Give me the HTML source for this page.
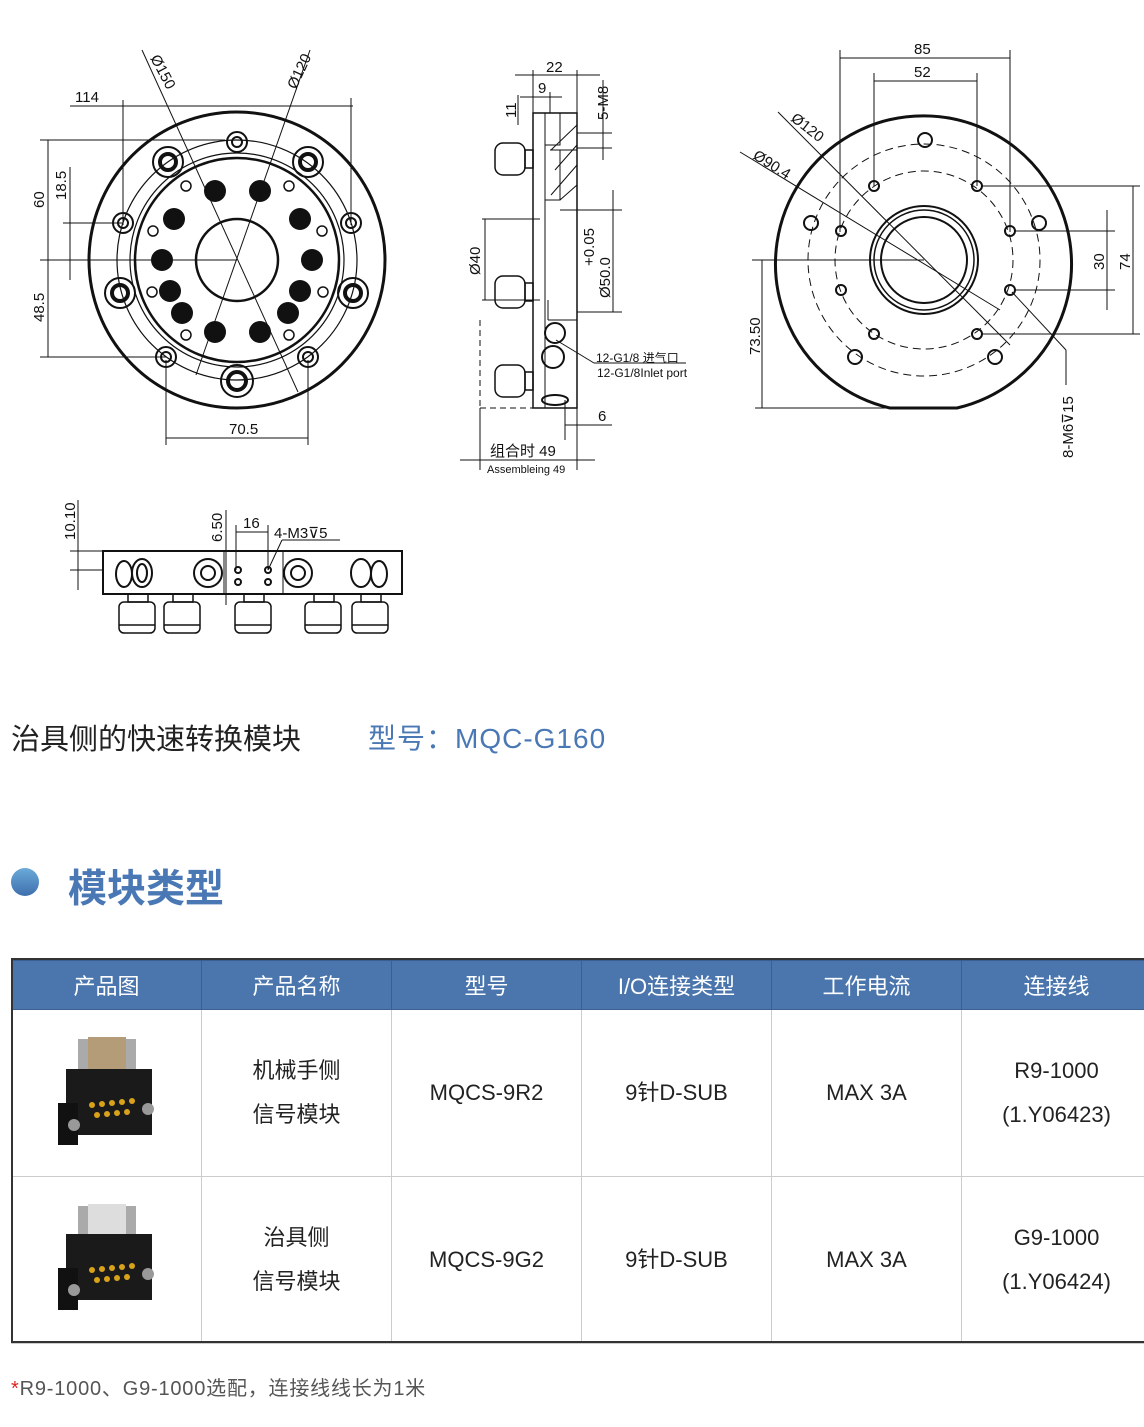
<!DOCTYPE html>
<html><head><meta charset="utf-8"><style>
body{margin:0;background:#fff;width:1144px;height:1427px;overflow:hidden;position:relative;font-family:"Liberation Sans","Noto Sans CJK SC",sans-serif}
svg{position:absolute;left:0;top:0}
.t{position:absolute;white-space:nowrap}
table{position:absolute;left:11px;top:960px;border-collapse:collapse;table-layout:fixed;width:1137px;font-family:"Liberation Sans","Noto Sans CJK SC",sans-serif}
td,th{border:1px solid #ccc;text-align:center;font-size:22px;color:#222;font-weight:normal;width:189px;padding:0}
th{background:#4a76ad;color:#fff;height:48px;border-color:#3a5f90;font-size:22px}
td{height:166px;line-height:44px}
</style></head><body>
<svg width="1144" height="660" viewBox="0 0 1144 660" fill="none" stroke="#111" stroke-width="1" font-family="Liberation Sans, Noto Sans CJK SC, sans-serif">
<g>
<circle cx="237" cy="260" r="148" stroke-width="3"/>
<circle cx="237" cy="260" r="120" stroke-width="1.2"/>
<circle cx="237" cy="260" r="107" stroke-width="1.2"/>
<circle cx="237" cy="260" r="102" stroke-width="2.5"/>
<circle cx="237" cy="260" r="41" stroke-width="2.5"/>
<g stroke-width="2">
<circle cx="237" cy="142" r="10"/><circle cx="237" cy="142" r="5"/>
<circle cx="123" cy="223" r="10"/><circle cx="123" cy="223" r="5"/>
<circle cx="351" cy="223" r="10"/><circle cx="351" cy="223" r="5"/>
<circle cx="166" cy="357" r="10"/><circle cx="166" cy="357" r="5"/>
<circle cx="308" cy="357" r="10"/><circle cx="308" cy="357" r="5"/>
<circle cx="168" cy="162" r="15"/><circle cx="168" cy="162" r="8" stroke-width="4"/>
<circle cx="308" cy="162" r="15"/><circle cx="308" cy="162" r="8" stroke-width="4"/>
<circle cx="120" cy="293" r="15"/><circle cx="120" cy="293" r="8" stroke-width="4"/>
<circle cx="353" cy="293" r="15"/><circle cx="353" cy="293" r="8" stroke-width="4"/>
<circle cx="237" cy="381" r="16"/><circle cx="237" cy="381" r="9" stroke-width="4"/>
</g>
<g fill="#111" stroke="none">
<circle cx="215" cy="191" r="11"/><circle cx="260" cy="191" r="11"/><circle cx="174" cy="219" r="11"/><circle cx="300" cy="219" r="11"/>
<circle cx="162" cy="260" r="11"/><circle cx="312" cy="260" r="11"/><circle cx="170" cy="291" r="11"/><circle cx="300" cy="291" r="11"/>
<circle cx="182" cy="313" r="11"/><circle cx="288" cy="313" r="11"/><circle cx="215" cy="332" r="11"/><circle cx="260" cy="332" r="11"/>
</g>
<g stroke-width="1.5">
<circle cx="186" cy="186" r="5"/><circle cx="289" cy="186" r="5"/><circle cx="153" cy="231" r="5"/><circle cx="322" cy="231" r="5"/>
<circle cx="152" cy="292" r="5"/><circle cx="323" cy="292" r="5"/><circle cx="186" cy="335" r="5"/><circle cx="289" cy="335" r="5"/>
</g>
<line x1="142" y1="50" x2="298" y2="392"/><line x1="310" y1="50" x2="196" y2="375"/>
<line x1="70" y1="106" x2="353" y2="106"/><line x1="123" y1="100" x2="123" y2="225"/><line x1="351" y1="98" x2="351" y2="225"/>
<line x1="40" y1="140" x2="225" y2="140"/><line x1="40" y1="260" x2="237" y2="260"/><line x1="40" y1="357" x2="166" y2="357"/>
<line x1="48" y1="140" x2="48" y2="357"/><line x1="70" y1="167" x2="70" y2="280"/><line x1="63" y1="223" x2="123" y2="223"/>
<line x1="166" y1="360" x2="166" y2="445"/><line x1="308" y1="360" x2="308" y2="445"/><line x1="166" y1="438" x2="308" y2="438"/>
</g>
<g fill="#111" stroke="none" font-size="15">
<text x="75" y="102">114</text><text x="229" y="434">70.5</text>
<text transform="translate(44,208) rotate(-90)">60</text><text transform="translate(66,200) rotate(-90)">18.5</text><text transform="translate(44,322) rotate(-90)">48.5</text>
<text transform="translate(150,58) rotate(62)">Ø150</text><text transform="translate(296,90) rotate(-65)">Ø120</text>
</g>
<g>
<rect x="533" y="113" width="44" height="295" stroke-width="1.5"/>
<line x1="545" y1="113" x2="545" y2="408"/>
<path d="M545 145 L560 145 L560 113" /><path d="M550 150 L577 150 M560 150 L560 200 L545 200" />
<path d="M560 210 L577 210 M548 300 L548 320 M548 320 L577 320"/>
<path d="M551 150 L577 125 M555 170 L577 145 M551 195 L577 165 M560 200 L577 185" stroke-width="1"/>
<circle cx="555" cy="333" r="10" stroke-width="2"/><circle cx="553" cy="357" r="11" stroke-width="2"/><ellipse cx="555" cy="400" rx="13" ry="5" stroke-width="2"/>
<g stroke-width="1.5">
<rect x="495" y="143" width="30" height="32" rx="8"/><rect x="525" y="150" width="8" height="18"/>
<rect x="495" y="276" width="30" height="32" rx="8"/><rect x="525" y="283" width="8" height="18"/>
<rect x="495" y="365" width="30" height="32" rx="8"/><rect x="525" y="372" width="8" height="18"/>
</g>
<line x1="480" y1="320" x2="480" y2="408" stroke-dasharray="6,4"/><line x1="480" y1="408" x2="533" y2="408" stroke-dasharray="6,4"/>
<line x1="515" y1="75" x2="600" y2="75"/><line x1="533" y1="70" x2="533" y2="113"/><line x1="577" y1="70" x2="577" y2="113"/>
<line x1="520" y1="97" x2="562" y2="97"/><line x1="550" y1="92" x2="550" y2="113"/><line x1="518" y1="95" x2="518" y2="125"/>
<line x1="603" y1="80" x2="603" y2="160"/><line x1="577" y1="133" x2="612" y2="133"/><line x1="577" y1="148" x2="612" y2="148"/>
<line x1="613" y1="190" x2="613" y2="312"/><line x1="577" y1="210" x2="622" y2="210"/><line x1="577" y1="312" x2="622" y2="312"/>
<line x1="482" y1="219" x2="540" y2="219"/><line x1="482" y1="300" x2="540" y2="300"/><line x1="485" y1="219" x2="485" y2="300"/>
<line x1="556" y1="340" x2="594" y2="363"/><line x1="594" y1="363" x2="686" y2="363"/>
<line x1="565" y1="425" x2="612" y2="425"/><line x1="565" y1="400" x2="565" y2="440"/>
<line x1="460" y1="460" x2="595" y2="460"/><line x1="480" y1="408" x2="480" y2="470"/><line x1="577" y1="408" x2="577" y2="470"/>
</g>
<g fill="#111" stroke="none" font-size="15">
<text x="546" y="72">22</text><text x="538" y="93">9</text><text x="598" y="421">6</text>
<text transform="translate(516,118) rotate(-90)">11</text><text transform="translate(608,120) rotate(-90)">5-M8</text>
<text transform="translate(480,275) rotate(-90)">Ø40</text><text transform="translate(594,266) rotate(-90)">+0.05</text><text transform="translate(610,298) rotate(-90)">Ø50.0</text>
<text x="596" y="362" font-size="12">12-G1/8 进气口</text><text x="597" y="377" font-size="12">12-G1/8Inlet port</text>
<text x="490" y="456" font-size="15">组合时 49</text><text x="487" y="473" font-size="11">Assembleing 49</text>
</g>
<g>
<path d="M890 408 A148 148 0 1 1 957 408 Z" stroke-width="3"/>
<circle cx="924" cy="260" r="116" stroke-dasharray="8,5"/><circle cx="924" cy="260" r="89" stroke-dasharray="8,5"/>
<circle cx="924" cy="260" r="54" stroke-width="2"/><circle cx="924" cy="260" r="50" stroke-width="1.5"/><circle cx="924" cy="260" r="43" stroke-width="2"/>
<g stroke-width="2">
<circle cx="874" cy="186" r="5"/><circle cx="977" cy="186" r="5"/><circle cx="841" cy="231" r="5"/><circle cx="1010" cy="231" r="5"/>
<circle cx="841" cy="290" r="5"/><circle cx="1010" cy="290" r="5"/><circle cx="874" cy="334" r="5"/><circle cx="977" cy="334" r="5"/>
<circle cx="925" cy="140" r="7"/><circle cx="811" cy="223" r="7"/><circle cx="1039" cy="223" r="7"/><circle cx="855" cy="357" r="7"/><circle cx="995" cy="357" r="7"/>
</g>
<line x1="752" y1="260" x2="924" y2="260"/>
<line x1="778" y1="112" x2="1010" y2="345"/><line x1="740" y1="152" x2="1000" y2="310"/>
<line x1="840" y1="50" x2="840" y2="232"/><line x1="1010" y1="50" x2="1010" y2="232"/><line x1="840" y1="58" x2="1010" y2="58"/>
<line x1="874" y1="73" x2="874" y2="186"/><line x1="977" y1="73" x2="977" y2="186"/><line x1="874" y1="81" x2="977" y2="81"/>
<line x1="982" y1="186" x2="1140" y2="186"/><line x1="1015" y1="231" x2="1115" y2="231"/><line x1="1015" y1="290" x2="1115" y2="290"/><line x1="982" y1="334" x2="1140" y2="334"/>
<line x1="1107" y1="210" x2="1107" y2="310"/><line x1="1133" y1="186" x2="1133" y2="334"/>
<line x1="755" y1="408" x2="957" y2="408"/><line x1="762" y1="260" x2="762" y2="408"/>
<line x1="1012" y1="292" x2="1066" y2="350"/><line x1="1066" y1="350" x2="1066" y2="385"/>
</g>
<g fill="#111" stroke="none" font-size="15">
<text x="914" y="54">85</text><text x="914" y="77">52</text>
<text transform="translate(790,120) rotate(38)">Ø120</text><text transform="translate(752,158) rotate(32)">Ø90.4</text>
<text transform="translate(1104,270) rotate(-90)">30</text><text transform="translate(1130,270) rotate(-90)">74</text>
<text transform="translate(760,355) rotate(-90)">73.50</text><text transform="translate(1073,458) rotate(-90)">8-M6⊽15</text>
</g>
<g>
<rect x="103" y="551" width="299" height="43" stroke-width="2"/>
<line x1="224" y1="551" x2="224" y2="594"/><line x1="283" y1="551" x2="283" y2="594"/>
<g stroke-width="2">
<ellipse cx="124" cy="574" rx="8" ry="13"/><ellipse cx="142" cy="573" rx="10" ry="14"/><ellipse cx="142" cy="573" rx="5" ry="9"/>
<circle cx="208" cy="573" r="14"/><circle cx="208" cy="573" r="7"/>
<circle cx="298" cy="573" r="14"/><circle cx="298" cy="573" r="7"/>
<ellipse cx="361" cy="573" rx="10" ry="14"/><ellipse cx="379" cy="574" rx="8" ry="13"/>
<circle cx="238" cy="570" r="3"/><circle cx="238" cy="582" r="3"/><circle cx="268" cy="570" r="3"/><circle cx="268" cy="582" r="3"/>
</g>
<g stroke-width="1.5">
<rect x="128" y="594" width="20" height="8"/><rect x="119" y="602" width="36" height="31" rx="5"/><line x1="119" y1="625" x2="155" y2="625"/>
<rect x="173" y="594" width="20" height="8"/><rect x="164" y="602" width="36" height="31" rx="5"/><line x1="164" y1="625" x2="200" y2="625"/>
<rect x="244" y="594" width="20" height="8"/><rect x="235" y="602" width="36" height="31" rx="5"/><line x1="235" y1="625" x2="271" y2="625"/>
<rect x="314" y="594" width="20" height="8"/><rect x="305" y="602" width="36" height="31" rx="5"/><line x1="305" y1="625" x2="341" y2="625"/>
<rect x="361" y="594" width="20" height="8"/><rect x="352" y="602" width="36" height="31" rx="5"/><line x1="352" y1="625" x2="388" y2="625"/>
</g>
<line x1="70" y1="551" x2="103" y2="551"/><line x1="70" y1="570" x2="103" y2="570"/><line x1="78" y1="500" x2="78" y2="590"/>
<line x1="226" y1="510" x2="226" y2="605"/><line x1="236" y1="525" x2="236" y2="570"/><line x1="268" y1="525" x2="268" y2="570"/><line x1="236" y1="532" x2="268" y2="532"/>
<line x1="268" y1="570" x2="282" y2="540"/><line x1="282" y1="540" x2="340" y2="540"/>
</g>
<g fill="#111" stroke="none" font-size="15">
<text transform="translate(75,540) rotate(-90)">10.10</text><text transform="translate(222,542) rotate(-90)">6.50</text>
<text x="243" y="528">16</text><text x="274" y="538">4-M3⊽5</text>
</g>
</svg>
<div class="t" style="left:11px;top:716px;font-size:29px;color:#222">治具侧的快速转换模块</div>
<div class="t" style="left:368px;top:717px;font-size:28px;color:#4a78b4;letter-spacing:1px">型号：MQC-G160</div>
<div style="position:absolute;left:11px;top:868px;width:28px;height:28px;border-radius:50%;background:linear-gradient(#6aaad8,#3f6fae)"></div>
<div class="t" style="left:68px;top:858px;font-size:39px;font-weight:bold;color:#4a78b4">模块类型</div>
<table>
<tr><th>产品图</th><th>产品名称</th><th>型号</th><th>I/O连接类型</th><th>工作电流</th><th>连接线</th></tr>
<tr><td><svg width="110" height="120" viewBox="0 0 110 120" style="position:static;vertical-align:middle"><rect x="26" y="6" width="12" height="30" fill="#aaa"/><rect x="72" y="6" width="12" height="30" fill="#aaa"/><rect x="36" y="4" width="38" height="32" fill="#b59c78"/><rect x="14" y="36" width="86" height="66" fill="#1a1a1a"/><rect x="6" y="70" width="20" height="42" fill="#111"/><g fill="#d9a21b"><circle cx="40" cy="72" r="3"/><circle cx="50" cy="71" r="3"/><circle cx="60" cy="70" r="3"/><circle cx="70" cy="69" r="3"/><circle cx="80" cy="68" r="3"/><circle cx="45" cy="82" r="3"/><circle cx="55" cy="81" r="3"/><circle cx="65" cy="80" r="3"/><circle cx="75" cy="79" r="3"/></g><circle cx="22" cy="92" r="6" fill="#999"/><circle cx="96" cy="76" r="6" fill="#999"/></svg></td><td>机械手侧<br>信号模块</td><td>MQCS-9R2</td><td>9针D-SUB</td><td>MAX 3A</td><td>R9-1000<br>(1.Y06423)</td></tr>
<tr><td><svg width="110" height="120" viewBox="0 0 110 120" style="position:static;vertical-align:middle"><rect x="26" y="6" width="12" height="30" fill="#aaa"/><rect x="72" y="6" width="12" height="30" fill="#aaa"/><rect x="36" y="4" width="38" height="30" fill="#ddd"/><rect x="14" y="34" width="86" height="66" fill="#1a1a1a"/><rect x="6" y="68" width="20" height="42" fill="#111"/><g fill="#d9a21b"><circle cx="40" cy="70" r="3"/><circle cx="50" cy="69" r="3"/><circle cx="60" cy="68" r="3"/><circle cx="70" cy="67" r="3"/><circle cx="80" cy="66" r="3"/><circle cx="45" cy="80" r="3"/><circle cx="55" cy="79" r="3"/><circle cx="65" cy="78" r="3"/><circle cx="75" cy="77" r="3"/></g><circle cx="22" cy="90" r="6" fill="#999"/><circle cx="96" cy="74" r="6" fill="#999"/></svg></td><td>治具侧<br>信号模块</td><td>MQCS-9G2</td><td>9针D-SUB</td><td>MAX 3A</td><td>G9-1000<br>(1.Y06424)</td></tr>
</table>
<div style="position:absolute;left:11px;top:958px;width:1140px;height:385px;border:2px solid #333;box-sizing:border-box;border-right:none"></div>
<div class="t" style="left:11px;top:1372px;font-size:20px;color:#555;letter-spacing:0.8px"><span style="color:#d22">*</span>R9-1000、G9-1000选配，连接线线长为1米</div>
</body></html>
